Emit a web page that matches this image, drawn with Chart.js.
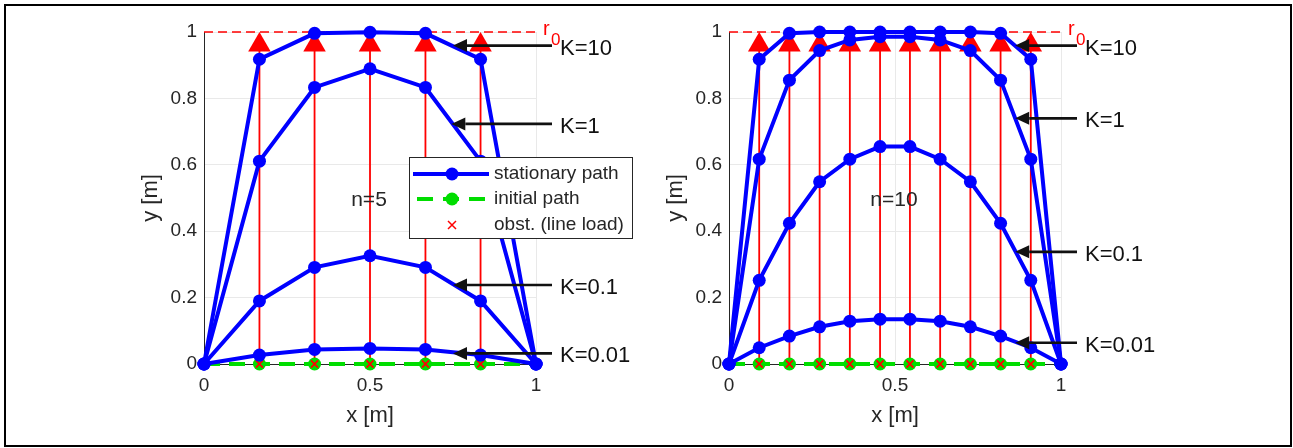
<!DOCTYPE html>
<html lang="en">
<head>
<meta charset="UTF-8">
<title>Stationary paths, n=5 and n=10</title>
<script src="https://cdn.jsdelivr.net/npm/chart.js"></script>
<style>
  html, body { margin: 0; padding: 0; background: #fff; }
  body { width: 1293px; height: 448px; position: relative; overflow: hidden; }
  .frame { position: absolute; left: 4px; top: 4px; width: 1288px; height: 443px;
           box-sizing: border-box; border: 2px solid #000; }
  canvas { position: absolute; top: 0; }
  #chartLeft { left: 0; }
  #chartRight { left: 525px; }
</style>
</head>
<body>
<div class="frame"></div>
<canvas id="chartLeft" width="650" height="448"></canvas>
<canvas id="chartRight" width="650" height="448"></canvas>
<script>
// axis ticks
const xTicks = [0, 0.5, 1];
const yTicks = [0, 0.2, 0.4, 0.6, 0.8, 1];
const kLabels = ['K=10', 'K=1', 'K=0.1', 'K=0.01'];

// n = 5 (left)
const x5 = [0, 0.167, 0.333, 0.5, 0.667, 0.833, 1];
const y5K10 = [0, 0.918, 0.996, 0.999, 0.996, 0.918, 0];
const y5K1 = [0, 0.611, 0.833, 0.889, 0.833, 0.611, 0];
const y5K01 = [0, 0.19, 0.291, 0.326, 0.291, 0.19, 0];
const y5K001 = [0, 0.027, 0.044, 0.047, 0.044, 0.027, 0];

// n = 10 (right)
const x10 = [0, 0.091, 0.182, 0.273, 0.364, 0.455, 0.545, 0.636, 0.727, 0.818, 0.909, 1];
const y10K10 = [0, 0.918, 0.996, 1, 1, 1, 1, 1, 1, 0.996, 0.918, 0];
const y10K1 = [0, 0.617, 0.855, 0.944, 0.976, 0.986, 0.986, 0.976, 0.944, 0.855, 0.617, 0];
const y10K01 = [0, 0.252, 0.424, 0.549, 0.617, 0.655, 0.655, 0.617, 0.549, 0.424, 0.252, 0];
const y10K001 = [0, 0.049, 0.084, 0.112, 0.129, 0.135, 0.135, 0.129, 0.112, 0.084, 0.049, 0];

// obstacle (line load) and radius r0
const r0 = 1;
const obstStem = 0.945;
const obstHead = 0.961;

// arrow tips for the K labels, in axis units
const arrowTips5 = [[0.75, 0.959], [0.745, 0.723], [0.75, 0.238], [0.75, 0.032]];
const arrowTips10 = [[0.862, 0.959], [0.862, 0.74], [0.862, 0.338], [0.862, 0.064]];

const FONT = '"Liberation Sans", Arial, Helvetica, sans-serif';
const TXT = '#262626';
const BLUE = '#0000ff';
const GREEN = '#00dd00';
const RED = '#ff0000';

function pts(xs, ys) {
    return xs.map((x, i) => ({x: x, y: ys[i]}));
}

function stems(xs, top) {
    const out = [];
    xs.forEach(x => { out.push({x: x, y: 0}, {x: x, y: top}, {x: x, y: null}); });
    return out;
}

function drawArrow(ctx, x0, y0, x1, y1) {
    const a = Math.atan2(y1 - y0, x1 - x0);
    const len = 14, half = 6.5;
    ctx.beginPath();
    ctx.moveTo(x0, y0);
    ctx.lineTo(x1 - Math.cos(a) * len, y1 - Math.sin(a) * len);
    ctx.stroke();
    ctx.beginPath();
    ctx.moveTo(x1, y1);
    ctx.lineTo(x1 - Math.cos(a) * len - Math.sin(a) * half, y1 - Math.sin(a) * len + Math.cos(a) * half);
    ctx.lineTo(x1 - Math.cos(a) * len + Math.sin(a) * half, y1 - Math.sin(a) * len - Math.cos(a) * half);
    ctx.closePath();
    ctx.fill();
}

// annotations, r0 label, n label and the legend box
const extras = {
    id: 'extras',
    afterDatasetsDraw(chart, args, opts) {
        const {ctx, chartArea: ca, scales: {x, y}} = chart;
        ctx.save();

        // r0
        const rx = x.getPixelForValue(1) + 7, ry = y.getPixelForValue(r0);
        ctx.fillStyle = RED;
        ctx.textBaseline = 'alphabetic';
        ctx.textAlign = 'left';
        ctx.font = '20px ' + FONT;
        ctx.fillText('r', rx, ry + 3);
        ctx.font = '17px ' + FONT;
        ctx.fillText('0', rx + 8, ry + 13);

        // K arrows
        ctx.strokeStyle = '#111';
        ctx.fillStyle = '#111';
        ctx.lineWidth = 2.7;
        opts.tips.forEach((t, i) => {
            const tx = x.getPixelForValue(t[0]), ty = y.getPixelForValue(t[1]);
            drawArrow(ctx, ca.right + opts.tail, ty, tx, ty);
            ctx.font = '22px ' + FONT;
            ctx.textBaseline = 'middle';
            ctx.fillText(kLabels[i], ca.right + opts.tail + 8, ty + 3);
        });

        // n label
        ctx.fillStyle = TXT;
        ctx.font = '21px ' + FONT;
        ctx.textAlign = 'center';
        ctx.textBaseline = 'middle';
        ctx.fillText(opts.nLabel, x.getPixelForValue(0.497), y.getPixelForValue(0.494));

        if (opts.legend) {
            const lx = ca.left + 205, ly = ca.top + 125, lw = 223, lh = 81;
            ctx.fillStyle = '#fff';
            ctx.fillRect(lx, ly, lw, lh);
            ctx.strokeStyle = TXT;
            ctx.lineWidth = 1;
            ctx.strokeRect(lx + 0.5, ly + 0.5, lw, lh);
            const mx = lx + 43, r1 = ly + 17, r2 = ly + 42, r3 = ly + 68;

            ctx.strokeStyle = BLUE;
            ctx.fillStyle = BLUE;
            ctx.lineWidth = 4;
            ctx.beginPath(); ctx.moveTo(lx + 4, r1); ctx.lineTo(lx + 80, r1); ctx.stroke();
            ctx.beginPath(); ctx.arc(mx, r1, 6.5, 0, Math.PI * 2); ctx.fill();

            ctx.strokeStyle = GREEN;
            ctx.fillStyle = GREEN;
            ctx.setLineDash([16, 10]);
            ctx.beginPath(); ctx.moveTo(lx + 8, r2); ctx.lineTo(lx + 80, r2); ctx.stroke();
            ctx.setLineDash([]);
            ctx.beginPath(); ctx.arc(mx, r2, 6.5, 0, Math.PI * 2); ctx.fill();

            ctx.strokeStyle = RED;
            ctx.lineWidth = 1.5;
            ctx.beginPath();
            ctx.moveTo(mx - 4, r3 - 4); ctx.lineTo(mx + 4, r3 + 4);
            ctx.moveTo(mx + 4, r3 - 4); ctx.lineTo(mx - 4, r3 + 4);
            ctx.stroke();

            ctx.fillStyle = TXT;
            ctx.font = '19px ' + FONT;
            ctx.textAlign = 'left';
            ctx.textBaseline = 'middle';
            ctx.fillText('stationary path', lx + 85, r1);
            ctx.fillText('initial path', lx + 85, r2);
            ctx.fillText('obst. (line load)', lx + 85, r3);
        }
        ctx.restore();
    }
};

function makeChart(id, xs, series, tips, nLabel, legend) {
    const inner = xs.slice(1, -1);
    const blue = series.map(ys => ({
        data: pts(xs, ys),
        borderColor: BLUE, backgroundColor: BLUE,
        borderWidth: 4, pointRadius: 6.5, pointBorderWidth: 0, clip: false
    }));
    const datasets = blue.concat([
        {   // obstacle markers on the initial path
            data: inner.map(x => ({x: x, y: 0})),
            showLine: false, pointStyle: 'crossRot', pointRadius: 5,
            borderColor: RED, pointBorderWidth: 1.8, clip: false
        },
        {   // initial path
            data: xs.map(x => ({x: x, y: 0})),
            borderColor: GREEN, backgroundColor: GREEN, borderWidth: 4, borderDash: [16, 9],
            pointRadius: xs.map((x, i) => (i === 0 || i === xs.length - 1) ? 0 : 6.5),
            pointBorderWidth: 0, clip: false
        },
        {   // obstacle heads
            data: inner.map(x => ({x: x, y: obstHead})),
            showLine: false, pointStyle: 'triangle', pointRadius: 13,
            backgroundColor: RED, borderColor: RED, pointBorderWidth: 0, clip: false
        },
        {   // obstacle stems
            data: stems(inner, obstStem),
            borderColor: RED, borderWidth: 1.8, pointRadius: 0, spanGaps: false, clip: false
        },
        {   // r0
            data: [{x: 0, y: r0}, {x: 1, y: r0}],
            borderColor: RED, borderWidth: 1.3, borderDash: [9, 5], pointRadius: 0, clip: false
        }
    ]);

    return new Chart(document.getElementById(id), {
        type: 'line',
        data: {datasets: datasets},
        options: {
            responsive: false,
            animation: false,
            events: [],
            layout: {padding: {left: 130, right: 114, top: 32, bottom: 0}},
            plugins: {
                legend: {display: false},
                tooltip: {enabled: false},
                extras: {tips: tips, nLabel: nLabel, legend: legend, tail: 16}
            },
            scales: {
                x: {
                    type: 'linear', min: 0, max: 1,
                    afterBuildTicks: s => { s.ticks = xTicks.map(v => ({value: v})); },
                    afterFit: s => { s.height = 84; },
                    grid: {color: '#e9e9e9', drawTicks: false},
                    border: {color: TXT, width: 1},
                    ticks: {color: TXT, padding: 10, font: {family: FONT, size: 19},
                            callback: v => String(v)},
                    title: {display: true, text: 'x [m]', color: TXT, padding: {top: 0, bottom: 19},
                            font: {family: FONT, size: 22}}
                },
                y: {
                    type: 'linear', min: 0, max: 1,
                    afterBuildTicks: s => { s.ticks = yTicks.map(v => ({value: v})); },
                    afterFit: s => { s.width = 74; },
                    grid: {color: '#e9e9e9', drawTicks: false},
                    border: {color: TXT, width: 1},
                    ticks: {color: TXT, padding: 7, font: {family: FONT, size: 19},
                            callback: v => String(v)},
                    title: {display: true, text: 'y [m]', color: TXT, padding: {top: 8, bottom: 0},
                            font: {family: FONT, size: 22}}
                }
            }
        },
        plugins: [extras]
    });
}

makeChart('chartLeft', x5, [y5K10, y5K1, y5K01, y5K001], arrowTips5, 'n=5', true);
makeChart('chartRight', x10, [y10K10, y10K1, y10K01, y10K001], arrowTips10, 'n=10', false);
</script>
</body>
</html>
